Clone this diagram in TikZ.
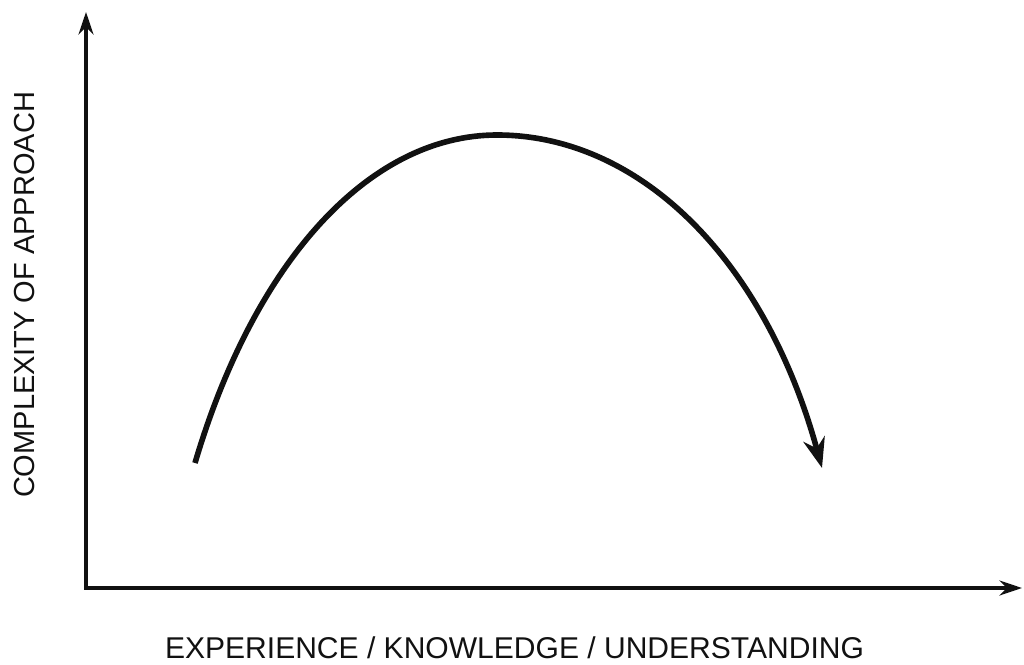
\documentclass[tikz,border=0pt]{standalone}
\usepackage{fontspec}
\setmainfont{Liberation Sans}
\usetikzlibrary{arrows.meta,positioning,calc}
\definecolor{Ink}{HTML}{111111}

\begin{document}
\begin{tikzpicture}[x=0.02cm,y=-0.02cm,every node/.style={font=\fontsize{16.5}{19}\selectfont, align=center, text=Ink, inner sep=0pt}]
      \useasboundingbox (0,0) rectangle (1024,665);
      \coordinate (o) at (86,588);
      \coordinate (ytop) at (86,12);
      \coordinate (xend) at (1022,588);
      \coordinate (cstart) at (195,463);
      \coordinate (peak) at (497,135);
      \coordinate (cend) at (822,468);

      % axes
      \draw[-{Stealth[length=4.5mm,width=3mm]},line width=2pt,Ink] (o) -- (ytop);
      \draw[-{Stealth[length=4.5mm,width=3mm]},line width=2pt,Ink] ($(o)+(-2,0)$) -- (xend);

      % labels
      \node[font=\fontsize{17.1}{20}\selectfont] (xlab) at (514.5,648) {EXPERIENCE / KNOWLEDGE / UNDERSTANDING};
      \node[rotate=90] (ylab) at (25,295) {COMPLEXITY OF APPROACH};

      % curve
      \draw[-{Stealth[length=6mm,width=4.4mm]},line width=3.2pt,Ink]
        (cstart) .. controls (255,260) and (370,135) .. (peak)
        .. controls (640,135) and (765,260) .. (cend);
    \end{tikzpicture}
\end{document}
